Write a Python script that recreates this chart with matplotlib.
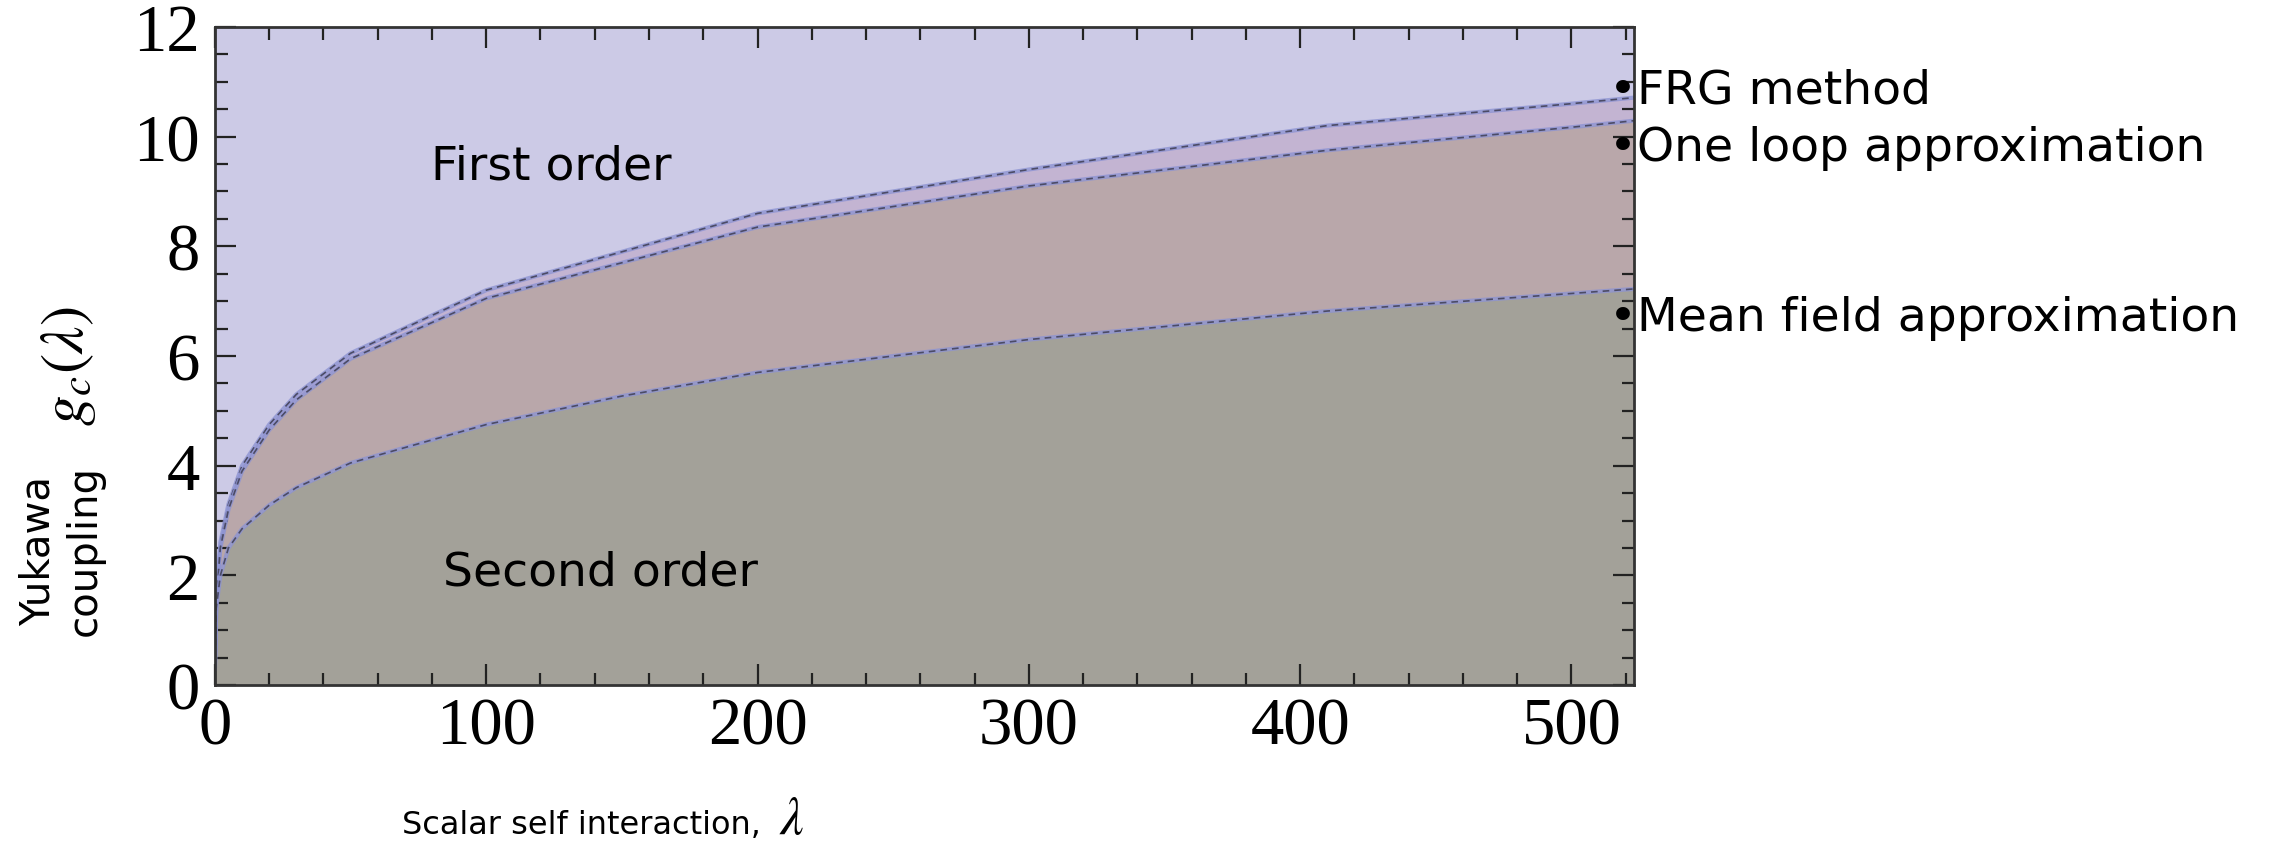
import matplotlib
matplotlib.use("Agg")
import matplotlib.pyplot as plt
from matplotlib.ticker import MultipleLocator

# lambda values and the three critical-coupling curves g_c(lambda)
lam = [0, 0.5, 2, 5, 10, 20, 30, 50, 100, 150, 200, 300, 410, 500, 525]
g_frg = [0.3, 1.6, 2.6, 3.3, 4.0, 4.75, 5.3, 6.05, 7.2, 7.9, 8.6, 9.4, 10.2, 10.6, 10.72]
g_one_loop = [0.3, 1.5, 2.5, 3.2, 3.9, 4.65, 5.2, 5.95, 7.05, 7.7, 8.35, 9.1, 9.75, 10.17, 10.3]
g_mean_field = [0.3, 1.4, 2.0, 2.5, 2.85, 3.28, 3.6, 4.05, 4.75, 5.27, 5.7, 6.3, 6.82, 7.14, 7.23]

curve_names = ["FRG method", "One loop approximation", "Mean field approximation"]
label_y = [10.85, 9.8, 6.7]

plt.rcParams["mathtext.fontset"] = "stix"

fig = plt.figure(figsize=(22.74, 8.45), dpi=100)
ax = fig.add_axes([0.0945, 0.188, 0.624, 0.779])

ymax = 12
ax.fill_between(lam, g_frg, ymax, color="#cccae6", lw=0)
ax.fill_between(lam, g_one_loop, g_frg, color="#c3b4d2", lw=0)
ax.fill_between(lam, g_mean_field, g_one_loop, color="#b9a7aa", lw=0)
ax.fill_between(lam, 0, g_mean_field, color="#a3a199", lw=0)

for g in (g_frg, g_one_loop, g_mean_field):
    ax.plot(lam, g, color="#8d93d2", lw=3.0, alpha=0.8)
    ax.plot(lam, g, color="#4b4b66", lw=1.2, ls=(0, (4, 3)))

ax.set_xlim(0, 523)
ax.set_ylim(0, ymax)
ax.xaxis.set_major_locator(MultipleLocator(100))
ax.xaxis.set_minor_locator(MultipleLocator(20))
ax.yaxis.set_major_locator(MultipleLocator(2))
ax.yaxis.set_minor_locator(MultipleLocator(0.5))
ax.tick_params(which="both", direction="in", top=True, right=True, color="#222222", width=1.6)
ax.tick_params(which="major", length=15, pad=8)
ax.tick_params(axis="y", which="major", pad=11)
ax.tick_params(which="minor", length=9)
for lbl in ax.get_xticklabels() + ax.get_yticklabels():
    lbl.set_family("Liberation Serif")
    lbl.set_fontsize(48)
for sp in ax.spines.values():
    sp.set_color("#333333")
    sp.set_linewidth(2)

ax.text(124, 9.47, "First order", fontsize=34, ha="center", va="center")
ax.text(142, 2.06, "Second order", fontsize=34, ha="center", va="center")
for name, y in zip(curve_names, label_y):
    ax.text(514, y, "\u2022" + name, fontsize=34, ha="left", va="center", clip_on=False)

fig.text(0.030, 0.567, "$g_c(\\lambda)$", fontsize=44, rotation=90, ha="center", va="center")
fig.text(0.027, 0.348, "Yukawa\ncoupling", fontsize=29, rotation=90, ha="center", va="center",
         multialignment="center")
fig.text(0.177, 0.013, "Scalar self interaction,", fontsize=23, ha="left", va="baseline")
fig.text(0.348, 0.013, "$\\lambda$", fontsize=38, ha="center", va="baseline")

fig.savefig("out.png", dpi=100)
